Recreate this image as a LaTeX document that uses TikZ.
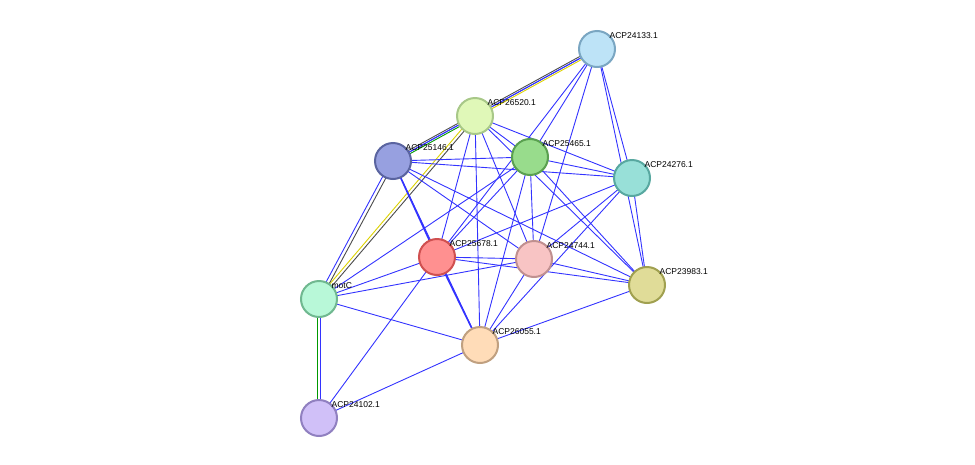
\documentclass[tikz,border=0pt]{standalone}
\usepackage{fontspec}
\setmainfont{Liberation Sans}
\begin{document}
\begin{tikzpicture}[x=1pt,y=-1pt,
  n/.style={circle,minimum size=36pt,inner sep=0pt,line width=2pt},
  lab/.style={font=\fontsize{8.5}{10}\selectfont,anchor=south west,inner sep=1pt},
  e/.style={blue!80!white,line width=0.9pt}]
\useasboundingbox (0,0) rectangle (975,464);
\def\N#1#2#3#4#5#6{\node[n,fill=#4,draw=#5] (#1) at (#2,#3) {}; \node[lab] at ([xshift=-2pt,yshift=-4pt]#1.north east) {#6};}
\definecolor{c1}{HTML}{BDE3F7}\definecolor{b1}{HTML}{7AA6C2}
\definecolor{c2}{HTML}{E0F8B8}\definecolor{b2}{HTML}{A8C888}
\definecolor{c3}{HTML}{97A0E0}\definecolor{b3}{HTML}{5A64A0}
\definecolor{c4}{HTML}{98DC8C}\definecolor{b4}{HTML}{5AA050}
\definecolor{c5}{HTML}{98E0D8}\definecolor{b5}{HTML}{58A8A0}
\definecolor{c6}{HTML}{FF9090}\definecolor{b6}{HTML}{D05050}
\definecolor{c7}{HTML}{F8C4C4}\definecolor{b7}{HTML}{C09090}
\definecolor{c8}{HTML}{E0DC98}\definecolor{b8}{HTML}{A0A050}
\definecolor{c9}{HTML}{B8F8D8}\definecolor{b9}{HTML}{70B890}
\definecolor{c10}{HTML}{FFDCB8}\definecolor{b10}{HTML}{C0A080}
\definecolor{c11}{HTML}{D0C0F8}\definecolor{b11}{HTML}{9080C0}
\coordinate (A) at (597,49); \coordinate (B) at (475,116); \coordinate (C) at (393,161);
\coordinate (D) at (530,157); \coordinate (E) at (632,178); \coordinate (F) at (437,257);
\coordinate (G) at (534,259); \coordinate (H) at (647,285); \coordinate (I) at (319,299);
\coordinate (J) at (480,345); \coordinate (K) at (319,418);
% multi edges
\draw[yellow!70!olive,line width=0.9pt] ([yshift=-2pt]A) -- ([yshift=-2pt]B);
\draw[e] (A) -- (B);
\draw[black!70,line width=0.9pt] ([yshift=2pt]A) -- ([yshift=2pt]B);
\draw[green!60!black,line width=0.9pt] ([yshift=-2pt]B) -- ([yshift=-2pt]C);
\draw[e] (B) -- (C);
\draw[black!70,line width=0.9pt] ([yshift=2pt]B) -- ([yshift=2pt]C);
\draw[yellow!70!olive,line width=0.9pt] ([xshift=-2pt]B) -- ([xshift=-2pt]I);
\draw[black!70,line width=0.9pt] ([xshift=2pt]B) -- ([xshift=2pt]I);
\draw[e] ([xshift=-2pt]C) -- ([xshift=-2pt]I);
\draw[black!70,line width=0.9pt] ([xshift=2pt]C) -- ([xshift=2pt]I);
\draw[green!60!black,line width=0.9pt] ([xshift=-1.5pt]I) -- ([xshift=-1.5pt]K);
\draw[e] ([xshift=1.5pt]I) -- ([xshift=1.5pt]K);
\draw[e,line width=1.6pt] (C) -- (F) -- (J);
\foreach \a/\b in {A/C,A/D,A/E,A/F,A/G,A/H,B/D,B/E,B/G,B/H,B/F,B/J,C/D,C/E,C/G,C/J,C/H,D/E,D/F,D/G,D/H,D/I,D/J,E/F,E/G,E/H,E/J,F/G,F/H,F/I,F/K,G/H,G/I,G/J,H/J,I/J,J/K}
  \draw[e] (\a) -- (\b);
\N{n1}{597}{49}{c1}{b1}{ACP24133.1}
\N{n2}{475}{116}{c2}{b2}{ACP26520.1}
\N{n3}{393}{161}{c3}{b3}{ACP25146.1}
\N{n4}{530}{157}{c4}{b4}{ACP25465.1}
\N{n5}{632}{178}{c5}{b5}{ACP24276.1}
\N{n6}{437}{257}{c6}{b6}{ACP25678.1}
\N{n7}{534}{259}{c7}{b7}{ACP24744.1}
\N{n8}{647}{285}{c8}{b8}{ACP23983.1}
\N{n9}{319}{299}{c9}{b9}{motC}
\N{n10}{480}{345}{c10}{b10}{ACP26055.1}
\N{n11}{319}{418}{c11}{b11}{ACP24102.1}
\end{tikzpicture}
\end{document}
